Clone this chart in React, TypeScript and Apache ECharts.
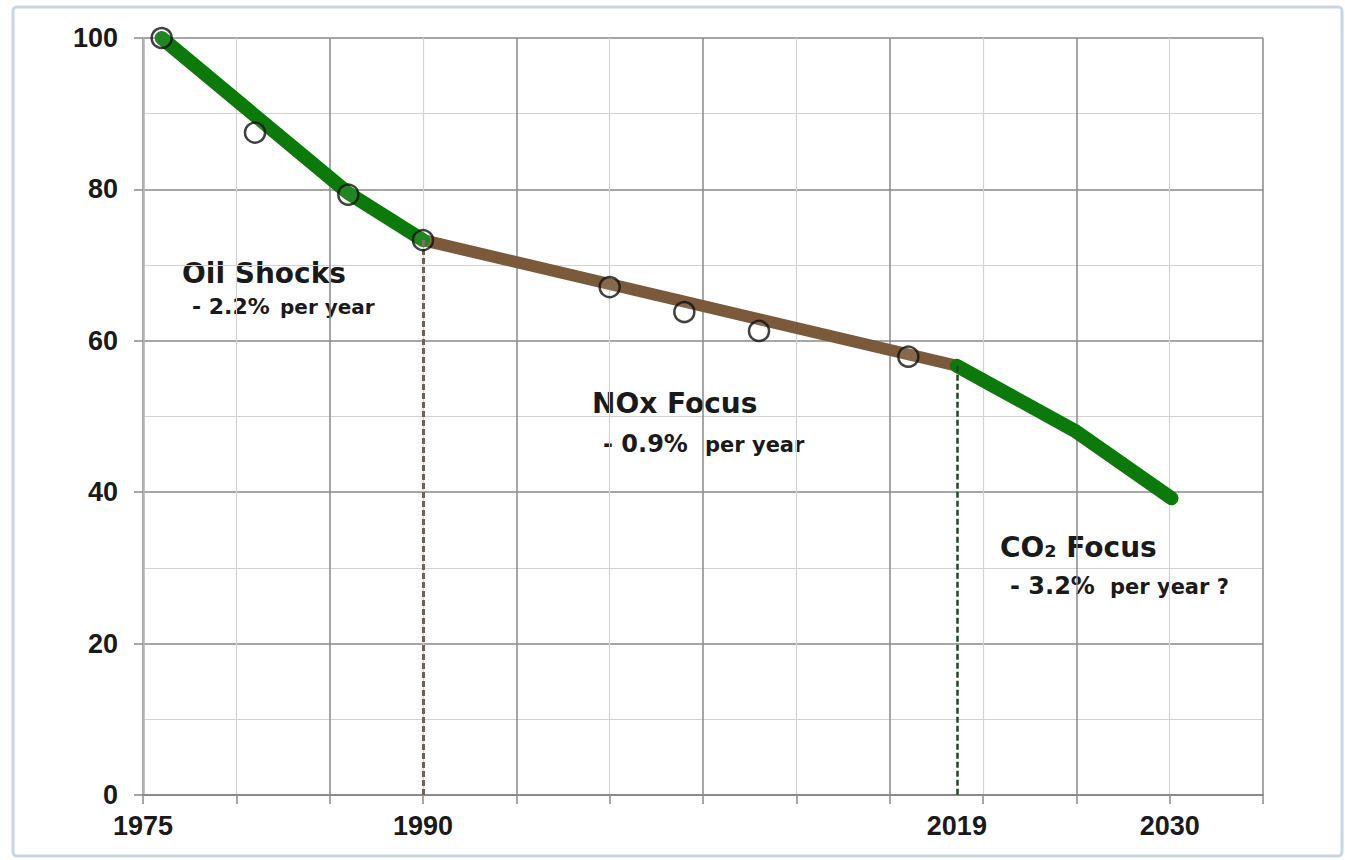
import React, { useEffect, useRef } from "react";
import * as echarts from "echarts";

const X0 = 1975;
// open circles (observed data)
const circleYears = [1976, 1981, 1986, 1990, 2000, 2004, 2008, 2016];
const circleValues = [100, 87.5, 79.3, 73.3, 67.1, 63.8, 61.3, 57.9];
// trend segments
const oilYears = [1976, 1986, 1990];
const oilValues = [100, 79.5, 73.3];
const noxYears = [1990, 2018.6];
const noxValues = [73.3, 56.7];
const co2Years = [2018.6, 2025, 2030.1];
const co2Values = [56.7, 48.0, 39.2];
// axis labels
const xTickYears = [1975, 1990, 2018.6, 2030];
const xTickLabels = ["1975", "1990", "2019", "2030"];
const xMinYear = 1975;
const xMaxYear = 2035;
const yMin = 0;
const yMax = 100;

const pts = (xs: number[], ys: number[]) => xs.map((x, i) => [x - X0, ys[i]]);

const GREEN = "#0b7a0b";
const BROWN = "#7a5a3a";
const TXT = "#1a1a1a";
const AX_FONT = "'Liberation Sans', Arial, sans-serif";
const AN_FONT = "'DejaVu Sans', Verdana, sans-serif";

export default function App() {
  const ref = useRef<HTMLDivElement>(null);
  useEffect(() => {
    if (!ref.current) return;
    const chart = echarts.init(ref.current, undefined, { renderer: "svg" });
    const heading = (text: string, x: number, y: number) => ({
      type: "text",
      x,
      y,
      silent: true,
      style: { text, fontSize: 28, fontWeight: "bold", fontFamily: AN_FONT, fill: TXT, verticalAlign: "middle" },
    });
    const sub = (text: string, size: number, x: number, y: number) => ({
      type: "text",
      x,
      y,
      silent: true,
      style: { text, fontSize: size, fontWeight: "bold", fontFamily: AN_FONT, fill: TXT, verticalAlign: "middle" },
    });
    const option: any = {
      animation: false,
      backgroundColor: "#ffffff",
      grid: { left: 143, right: 82, top: 38, bottom: 65, containLabel: false },
      xAxis: {
        type: "value",
        min: xMinYear - X0,
        max: xMaxYear - X0,
        interval: 10,
        axisLine: { show: true, onZero: false, lineStyle: { color: "#8a8a8a", width: 2 } },
        axisTick: { show: true, length: 9, lineStyle: { color: "#8a8a8a", width: 1.5 } },
        minorTick: { show: true, splitNumber: 2, length: 9, lineStyle: { color: "#8a8a8a", width: 1.5 } },
        splitLine: { show: true, lineStyle: { color: "#888888", width: 1.5 } },
        minorSplitLine: { show: true, lineStyle: { color: "#d2d2d2", width: 1.2 } },
        axisLabel: {
          customValues: xTickYears.map((y) => y - X0),
          formatter: (v: number) => {
            const i = xTickYears.findIndex((y) => Math.abs(y - X0 - v) < 0.01);
            return i >= 0 ? xTickLabels[i] : "";
          },
          fontSize: 27,
          fontWeight: "bold",
          fontFamily: AX_FONT,
          color: TXT,
          margin: 17,
        },
      },
      yAxis: {
        type: "value",
        min: yMin,
        max: yMax,
        interval: 20,
        axisLine: { show: true, lineStyle: { color: "#b0b0b0", width: 2.5 } },
        axisTick: { show: true, length: 9, lineStyle: { color: "#8a8a8a", width: 1.5 } },
        splitLine: { show: true, lineStyle: { color: "#888888", width: 1.5 } },
        minorTick: { show: false, splitNumber: 2 },
        minorSplitLine: { show: true, lineStyle: { color: "#d2d2d2", width: 1.2 } },
        axisLabel: {
          fontSize: 27,
          fontWeight: "bold",
          fontFamily: AX_FONT,
          color: TXT,
          margin: 25,
        },
      },
      series: [
        {
          type: "line",
          name: "NOx",
          data: pts(noxYears, noxValues),
          symbol: "none",
          z: 3,
          lineStyle: { color: BROWN, width: 12, cap: "round", join: "round" },
          markLine: {
            silent: true,
            symbol: "none",
            label: { show: false },
            lineStyle: { color: "#6e6358", width: 3, type: [6, 3] },
            data: [[{ coord: [noxYears[0] - X0, noxValues[0]] }, { coord: [noxYears[0] - X0, 0] }]],
          },
        },
        {
          type: "line",
          name: "Oil",
          data: pts(oilYears, oilValues),
          symbol: "none",
          z: 4,
          lineStyle: { color: GREEN, width: 14, cap: "round", join: "round" },
        },
        {
          type: "line",
          name: "CO2",
          data: pts(co2Years, co2Values),
          symbol: "none",
          z: 4,
          lineStyle: { color: GREEN, width: 14, cap: "round", join: "round" },
          markLine: {
            silent: true,
            symbol: "none",
            label: { show: false },
            lineStyle: { color: "#1e4a1e", width: 2.5, type: [6, 3] },
            data: [[{ coord: [co2Years[0] - X0, co2Values[0]] }, { coord: [co2Years[0] - X0, 0] }]],
          },
        },
        {
          type: "scatter",
          name: "Data",
          data: pts(circleYears, circleValues),
          symbol: "circle",
          symbolSize: 20,
          z: 6,
          itemStyle: { color: "rgba(255,255,255,0.12)", borderColor: "#111111", borderWidth: 2.5 },
        },
      ],
      graphic: [
        {
          type: "rect",
          silent: true,
          shape: { x: 13, y: 7, width: 1329, height: 849, r: 4 },
          style: { fill: "none", stroke: "#c8d5e5", lineWidth: 3 },
        },
        heading("Oil Shocks", 182, 273),
        sub("- 2.2%", 22, 192, 306),
        sub("per year", 20, 280, 307),
        heading("NOx Focus", 592, 403),
        sub("- 0.9%", 24, 603, 444),
        sub("per year", 21, 705, 445),
        heading("CO₂ Focus", 1000, 547),
        sub("- 3.2%", 24, 1010, 586),
        sub("per year ?", 21, 1110, 587),
      ],
    };
    chart.setOption(option);
    return () => chart.dispose();
  }, []);
  return (
    <div
      ref={ref}
      style={{ position: "fixed", left: 0, top: 0, width: 1345, height: 860, background: "#fff" }}
    />
  );
}
